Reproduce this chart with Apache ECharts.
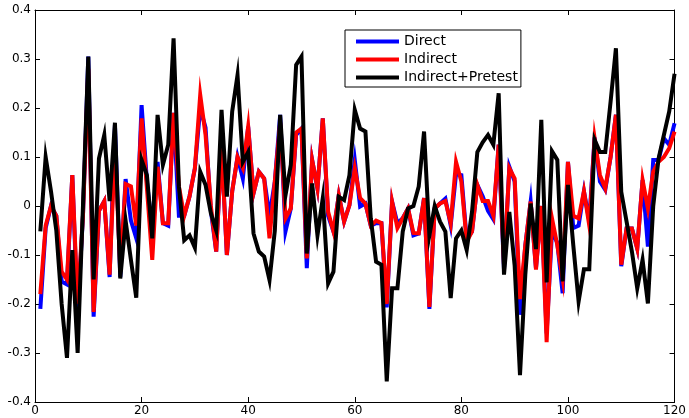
<!DOCTYPE html>
<html>
<head>
<meta charset="utf-8">
<script src="https://cdn.jsdelivr.net/npm/echarts@6/dist/echarts.min.js"></script>
<style>
  html, body { margin: 0; padding: 0; background: #fff; }
  #chart { width: 689px; height: 418px; }
</style>
</head>
<body>
<div id="chart"></div>
<script>
// values, one per step (x = 1 .. 120)
const direct = [
  -0.21, -0.045, 0.0, -0.02, -0.154, -0.16, 0.063, -0.22, -0.02, 0.305,
  -0.226, -0.01, 0.01, -0.145, 0.165, -0.145, 0.055, -0.03, -0.066, 0.206,
  0.05, -0.05, 0.09, -0.035, -0.04, 0.19, -0.02, -0.02, 0.02, 0.077,
  0.2, 0.16, -0.01, -0.093, 0.12, -0.1, 0.03, 0.1, 0.056, 0.162,
  0.026, 0.07, 0.056, -0.02, 0.05, 0.186, -0.052, -0.005, 0.145, 0.158,
  -0.127, 0.094, 0.036, 0.179, -0.02, -0.052, 0.022, -0.032, 0.002, 0.094,
  -0.001, 0.005, -0.04, -0.035, -0.035, -0.207, 0.009, -0.035, -0.025, -0.005,
  -0.06, -0.056, 0.016, -0.21, -0.005, 0.005, 0.015, -0.04, 0.065, 0.063,
  -0.068, -0.052, 0.043, 0.02, -0.01, -0.027, 0.125, -0.13, 0.08, 0.05,
  -0.222, -0.08, 0.009, -0.127, 0.0, -0.26, -0.052, -0.075, -0.178, 0.09,
  -0.045, -0.04, 0.03, -0.03, 0.14, 0.05, 0.033, 0.1, 0.186, -0.123,
  -0.046, -0.046, -0.087, 0.053, -0.083, 0.094, 0.094, 0.138, 0.125, 0.169
]
const indirect = [
  -0.18, -0.04, 0.0, -0.02, -0.134, -0.15, 0.063, -0.2, -0.02, 0.28,
  -0.216, -0.01, 0.01, -0.14, 0.12, -0.13, 0.045, 0.04, -0.04, 0.179,
  0.036, -0.11, 0.08, -0.035, -0.035, 0.19, 0.04, -0.02, 0.02, 0.077,
  0.227, 0.145, 0.0, -0.093, 0.12, -0.1, 0.03, 0.1, 0.077, 0.162,
  0.026, 0.07, 0.056, -0.066, 0.05, 0.17, -0.025, -0.005, 0.15, 0.158,
  -0.107, 0.094, 0.036, 0.179, -0.012, -0.052, 0.022, -0.032, 0.002, 0.077,
  0.016, 0.005, -0.04, -0.03, -0.035, -0.2, 0.009, -0.045, -0.025, -0.005,
  -0.055, -0.056, 0.016, -0.206, -0.005, 0.005, 0.01, -0.035, 0.09, 0.05,
  -0.073, -0.052, 0.043, 0.01, 0.01, -0.02, 0.125, -0.12, 0.077, 0.056,
  -0.19, -0.08, 0.009, -0.13, 0.0, -0.278, -0.025, -0.08, -0.148, 0.09,
  -0.02, -0.025, 0.03, -0.04, 0.138, 0.063, 0.036, 0.1, 0.186, -0.12,
  -0.046, -0.046, -0.087, 0.053, -0.005, 0.07, 0.09, 0.1, 0.118, 0.152
]
const pretest = [
  -0.052, 0.1, 0.03, -0.05, -0.2, -0.31, -0.09, -0.3, 0.0, 0.305,
  -0.15, 0.097, 0.145, 0.01, 0.17, -0.148, -0.03, -0.11, -0.187, 0.094,
  0.063, -0.066, 0.186, 0.084, 0.125, 0.342, 0.04, -0.07, -0.06, -0.085,
  0.07, 0.043, -0.015, -0.05, 0.196, 0.019, 0.193, 0.267, 0.09, 0.11,
  -0.056, -0.093, -0.103, -0.151, -0.05, 0.186, 0.022, 0.084, 0.288, 0.305,
  -0.097, 0.046, -0.06, 0.016, -0.158, -0.134, 0.019, 0.012, 0.063, 0.196,
  0.158, 0.152, -0.025, -0.114, -0.12, -0.358, -0.168, -0.168, -0.052, -0.005,
  0.0, 0.04, 0.152, -0.06, 0.0, -0.032, -0.052, -0.188, -0.066, -0.05,
  -0.09, -0.012, 0.11, 0.13, 0.145, 0.125, 0.23, -0.14, -0.012, -0.122,
  -0.345, -0.14, 0.005, -0.088, 0.176, -0.156, 0.112, 0.094, -0.154, 0.043,
  -0.08, -0.195, -0.129, -0.129, 0.135, 0.11, 0.11, 0.213, 0.322, 0.029,
  -0.032, -0.093, -0.168, -0.11, -0.199, 0.0, 0.097, 0.145, 0.193, 0.27
]
const seriesNames = ['Direct', 'Indirect', 'Indirect+Pretest']
const seriesColors = ['#0000ff', '#ff0000', '#000000']

const toPoints = arr => arr.map((v, i) => [i + 1, v])

const myChart = echarts.init(document.getElementById('chart'), null, { renderer: 'canvas' })

const axisFont = { color: '#000', fontSize: 12, fontFamily: 'DejaVu Sans' }
const boxLine = { show: true, onZero: false, lineStyle: { color: '#000', width: 1 } }

const xBase = {
  type: 'value',
  min: 0,
  max: 120,
  interval: 20,
  splitLine: { show: false },
  axisLine: boxLine,
  axisTick: { show: true, inside: true, length: 5, lineStyle: { color: '#000' } }
}
const yBase = {
  type: 'value',
  min: -0.4,
  max: 0.4,
  interval: 0.1,
  splitLine: { show: false },
  axisLine: boxLine,
  axisTick: { show: true, inside: true, length: 5, lineStyle: { color: '#000' } }
}

const option = {
  backgroundColor: '#fff',
  animation: false,
  grid: { left: 35, right: 14, top: 10, bottom: 16, containLabel: false },
  legend: {
    orient: 'vertical',
    left: 345,
    top: 30,
    padding: [4, 3, 2, 11],
    itemGap: 3,
    itemWidth: 43,
    itemHeight: 4,
    icon: 'rect',
    backgroundColor: '#fff',
    borderColor: '#000',
    borderWidth: 1,
    borderRadius: 0,
    textStyle: { color: '#000', fontSize: 14, lineHeight: 15, fontFamily: 'DejaVu Sans' },
    data: seriesNames
  },
  xAxis: [
    Object.assign({}, xBase, {
      position: 'bottom',
      axisLabel: Object.assign({ margin: 3 }, axisFont)
    }),
    Object.assign({}, xBase, {
      position: 'top',
      axisLabel: { show: false }
    })
  ],
  yAxis: [
    Object.assign({}, yBase, {
      position: 'left',
      axisLabel: Object.assign({ margin: 4, formatter: v => String(Math.round(v * 10) / 10) }, axisFont)
    }),
    Object.assign({}, yBase, {
      position: 'right',
      axisLabel: { show: false }
    })
  ],
  series: [direct, indirect, pretest].map((arr, k) => ({
    name: seriesNames[k],
    type: 'line',
    xAxisIndex: 0,
    yAxisIndex: 0,
    data: toPoints(arr),
    showSymbol: false,
    symbol: 'none',
    lineStyle: { color: seriesColors[k], width: 4, join: 'miter' },
    itemStyle: { color: seriesColors[k] },
    z: 2 + k
  }))
}

myChart.setOption(option)
</script>
</body>
</html>
